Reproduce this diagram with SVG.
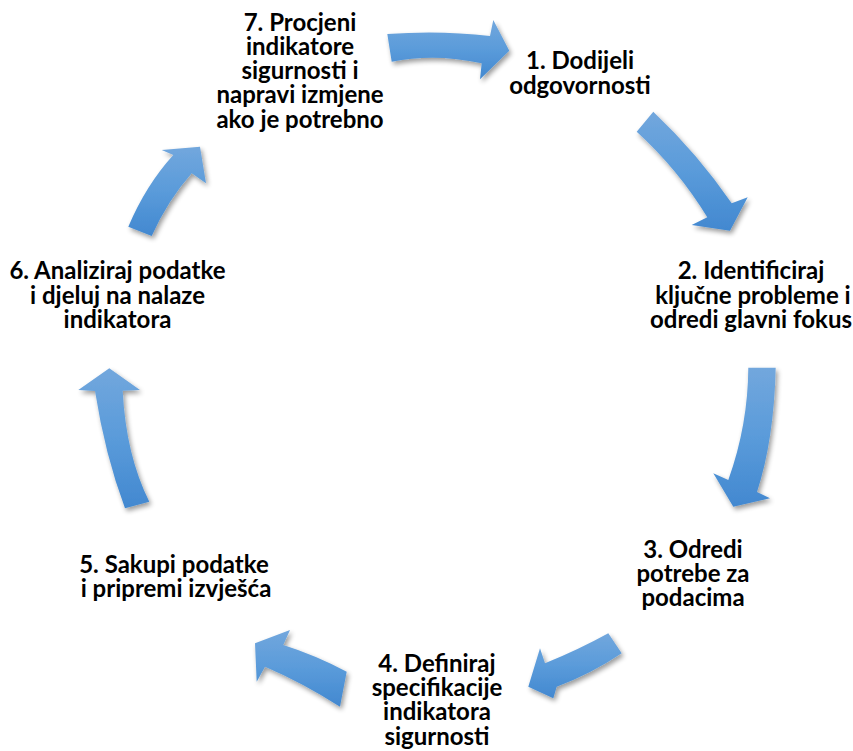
<svg xmlns="http://www.w3.org/2000/svg" width="853" height="751" viewBox="0 0 853 751">
<defs>
<linearGradient id="blueGrad" x1="0" y1="0" x2="0" y2="1">
<stop offset="0" stop-color="#72A7DD"/>
<stop offset="0.5" stop-color="#5A9BDA"/>
<stop offset="1" stop-color="#4288D0"/>
</linearGradient>
<filter id="shadow" x="-30%" y="-30%" width="160%" height="160%">
<feGaussianBlur in="SourceAlpha" stdDeviation="2.5"/>
<feOffset dx="2" dy="3" result="b"/>
<feComponentTransfer><feFuncA type="linear" slope="0.4"/></feComponentTransfer>
<feMerge><feMergeNode/><feMergeNode in="SourceGraphic"/></feMerge>
</filter>
</defs>
<style>
.arrow{fill:url(#blueGrad);filter:url(#shadow);}
.lbl{font-family:Lato,"Open Sans","Liberation Sans",sans-serif;font-weight:bold;font-size:24px;fill:#000;text-anchor:middle;}
</style>
<rect width="853" height="751" fill="#fff"/>
<g id="connectors">
<path class="arrow" d="M387.3,34 Q440,30 490,36 L493.3,20 L509.3,50.7 L480,79.3 L481.7,63.3 Q435,53 391.7,61.7 Z"/>
<path class="arrow" d="M653.3,111.7 Q697.5,153.5 731.7,203.3 L747.7,197.3 L730,230.7 L691.7,225 L707.3,217.3 Q678.2,169.5 636.7,131.7 Z"/>
<path class="arrow" d="M748.3,367.7 L775.7,367.7 Q774,440 757,492 L770,498.3 L733.3,506.7 L713.3,473.3 L728.3,480 Q748,425 748.3,367.7 Z"/>
<path class="arrow" d="M608.3,633.3 L621.7,653.3 Q591,674 556.7,686.7 L553.3,698.3 L528.3,686.7 L540,648.3 L545,663.3 Q578,650 608.3,633.3 Z"/>
<path class="arrow" d="M340,706.7 L346.7,671.7 Q315,655 283.3,645 L290,630 L255,643.3 L256.7,681.7 L265,666.7 Q303,683 340,706.7 Z"/>
<path class="arrow" d="M109.3,368.3 L140,390 L122.7,390.7 Q126,455 149.3,501.7 L125,508.3 Q105,455 95,391 L78.3,390 Z"/>
<path class="arrow" d="M128.3,226.7 L151.7,236 Q168,200 191.7,173.3 L206,183.3 L200,146.7 L161.7,150 L173.3,155 Q146,185 128.3,226.7 Z"/>
</g>
<g id="node1">
<text class="lbl" y="69.3"><tspan x="580">1. Dodijeli</tspan><tspan x="580" dy="24.2">odgovornosti</tspan></text>
</g>
<g id="node2">
<text class="lbl" y="279.3"><tspan x="751">2. Identificiraj</tspan><tspan x="753" dy="24.2">ključne probleme i</tspan><tspan x="751" dy="24.2">odredi glavni fokus</tspan></text>
</g>
<g id="node3">
<text class="lbl" y="558"><tspan x="693">3. Odredi</tspan><tspan x="693" dy="24.2">potrebe za</tspan><tspan x="693" dy="24.2">podacima</tspan></text>
</g>
<g id="node4">
<text class="lbl" y="672"><tspan x="437">4. Definiraj</tspan><tspan x="437" dy="24.2">specifikacije</tspan><tspan x="437" dy="24.2">indikatora</tspan><tspan x="437" dy="24.2">sigurnosti</tspan></text>
</g>
<g id="node5">
<text class="lbl" y="573"><tspan x="174">5. Sakupi podatke</tspan><tspan x="176" dy="24.2">i pripremi izvješća</tspan></text>
</g>
<g id="node6">
<text class="lbl" y="279.3"><tspan x="117.5">6. Analiziraj podatke</tspan><tspan x="117.5" dy="24.2">i djeluj na nalaze</tspan><tspan x="117.5" dy="24.2">indikatora</tspan></text>
</g>
<g id="node7">
<text class="lbl" y="30.7"><tspan x="300">7. Procjeni</tspan><tspan x="300" dy="24.2">indikatore</tspan><tspan x="300" dy="24.2">sigurnosti i</tspan><tspan x="300" dy="24.2">napravi izmjene</tspan><tspan x="300" dy="24.2">ako je potrebno</tspan></text>
</g>
</svg>
